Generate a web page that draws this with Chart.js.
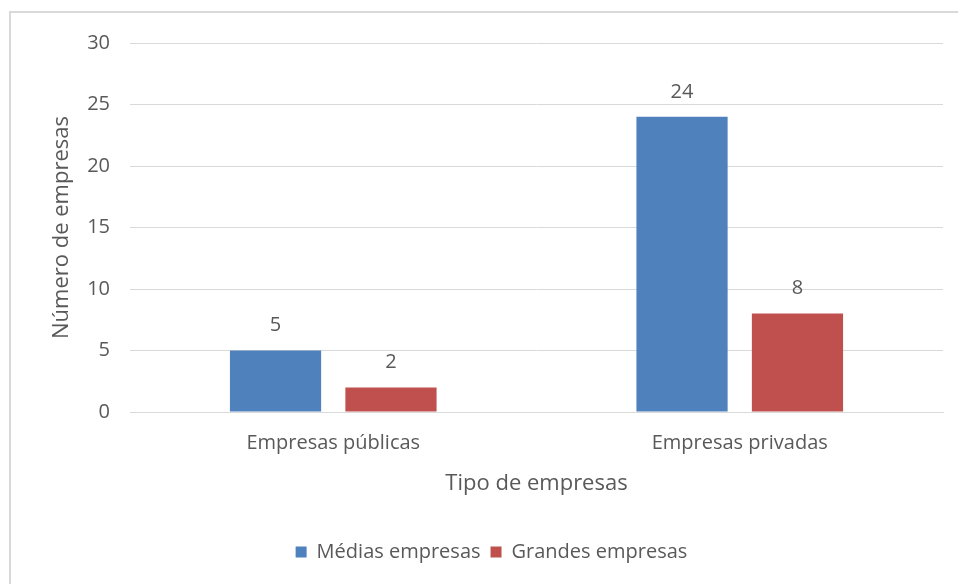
<!DOCTYPE html>
<html>
<head>
<meta charset="utf-8">
<script src="https://cdn.jsdelivr.net/npm/chart.js@4"></script>
<style>
    html, body {margin: 0; padding: 0; background: #fff; overflow: hidden;}
    .moldura {position: absolute; left: 9px; top: 11px; width: 1000px; height: 1000px; border: 2px solid #d9d9d9;}
    .caixa {position: absolute; left: 0; top: 0; width: 958px; height: 584px;}
</style>
</head>
<body>
<div class="moldura"></div>
<div class="caixa"><canvas id="grafico"></canvas></div>
<script>
const categorias = ['Empresas públicas', 'Empresas privadas'];
const medias = [5, 24];
const grandes = [2, 8];
const nomesSeries = ['Médias empresas', 'Grandes empresas'];

const corTexto = '#595959';
const fonte = '"Open Sans", sans-serif';

// escreve o valor por cima de cada barra
const rotulosValor = {
    id: 'rotulosValor',
    afterDatasetsDraw(chart) {
        const ctx = chart.ctx;
        ctx.save();
        ctx.fillStyle = corTexto;
        ctx.font = '20px ' + fonte;
        ctx.textAlign = 'center';
        ctx.textBaseline = 'middle';
        chart.data.datasets.forEach((ds, i) => {
            chart.getDatasetMeta(i).data.forEach((barra, j) => {
                ctx.fillText(ds.data[j], barra.x, barra.y - 25);
            });
        });
        ctx.restore();
    }
};

new Chart(document.getElementById('grafico'), {
    type: 'bar',
    data: {
        labels: categorias,
        datasets: [
            {label: nomesSeries[0], data: medias, backgroundColor: '#4F81BD'},
            {label: nomesSeries[1], data: grandes, backgroundColor: '#C0504D'}
        ]
    },
    options: {
        responsive: true,
        maintainAspectRatio: false,
        animation: false,
        categoryPercentage: 0.568,
        barPercentage: 0.79,
        layout: {padding: {left: 40, right: 15, top: 43, bottom: 12}},
        plugins: {
            legend: {
                position: 'bottom',
                labels: {
                    color: corTexto,
                    font: {family: fonte, size: 20},
                    boxWidth: 11,
                    boxHeight: 11,
                    padding: 10
                }
            },
            tooltip: {enabled: false}
        },
        scales: {
            y: {
                min: 0,
                max: 30,
                ticks: {stepSize: 5, color: corTexto, font: {family: fonte, size: 20}, padding: 20},
                grid: {color: '#d9d9d9', drawTicks: false},
                border: {display: false},
                title: {
                    display: true,
                    text: 'Número de empresas',
                    color: corTexto,
                    font: {family: fonte, size: 22},
                    padding: {top: 9, bottom: 0}
                },
                afterFit: scale => { scale.width = 90; }
            },
            x: {
                ticks: {color: corTexto, font: {family: fonte, size: 20}, padding: 19},
                grid: {display: false, drawTicks: false},
                border: {color: '#d9d9d9'},
                title: {
                    display: true,
                    text: 'Tipo de empresas',
                    color: corTexto,
                    font: {family: fonte, size: 22},
                    padding: {top: 0, bottom: 35}
                },
                afterFit: scale => { scale.height = 120; }
            }
        }
    },
    plugins: [rotulosValor]
});
</script>
</body>
</html>
